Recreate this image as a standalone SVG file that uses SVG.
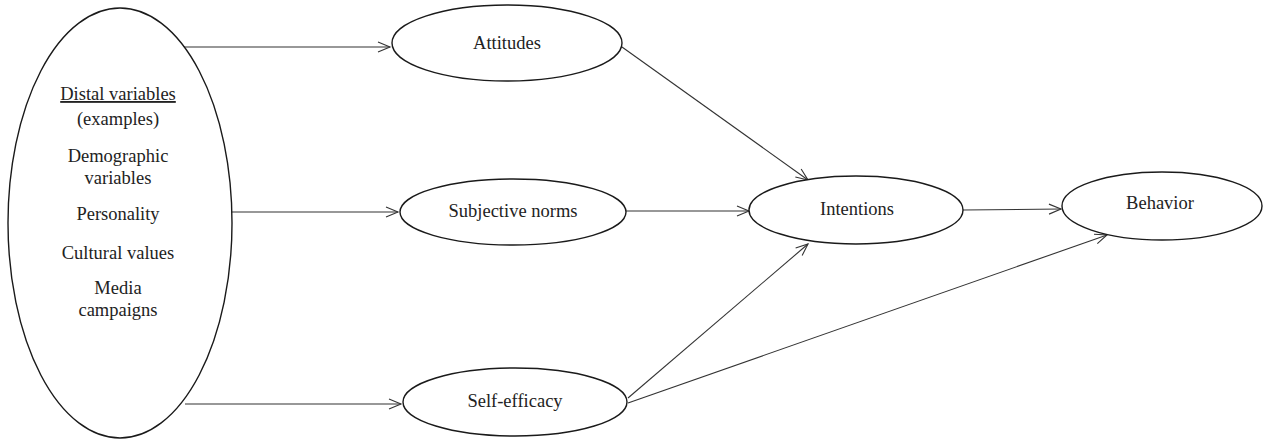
<svg xmlns="http://www.w3.org/2000/svg" width="1264" height="440" viewBox="0 0 1264 440">
<style>
.n{fill:#fff;stroke:#1a1a1a;stroke-width:1.4}
.t{font-family:"Liberation Serif","Times New Roman",serif;font-size:18.5px;fill:#222;text-anchor:middle}
.c{stroke:#333;stroke-width:1.1;fill:none;marker-end:url(#a)}
</style>
<defs>
<marker id="a" markerUnits="userSpaceOnUse" markerWidth="16" markerHeight="14" refX="13" refY="6" orient="auto" viewBox="0 0 16 12">
<path d="M1,1 L13,6 L1,11" fill="none" stroke="#333" stroke-width="1.1"/>
</marker>
</defs>
<rect width="1264" height="440" fill="#fff"/>
<g id="connectors">
<line class="c" x1="183" y1="47" x2="390" y2="47"/>
<line class="c" x1="229" y1="212" x2="398" y2="212"/>
<line class="c" x1="185" y1="404" x2="401" y2="404"/>
<line class="c" x1="622" y1="47" x2="808" y2="180"/>
<line class="c" x1="626" y1="211" x2="749" y2="211"/>
<line class="c" x1="628" y1="398" x2="808" y2="244"/>
<line class="c" x1="628" y1="403" x2="1107" y2="235"/>
<line class="c" x1="963" y1="210" x2="1061" y2="209"/>
</g>
<g id="distal">
<ellipse class="n" cx="120" cy="223" rx="112" ry="215"/>
<text class="t" x="118" y="100" text-decoration="underline">Distal variables</text>
<text class="t" x="118" y="125">(examples)</text>
<text class="t" x="118" y="162">Demographic</text>
<text class="t" x="118" y="184">variables</text>
<text class="t" x="118" y="220">Personality</text>
<text class="t" x="118" y="259">Cultural values</text>
<text class="t" x="118" y="294">Media</text>
<text class="t" x="118" y="316">campaigns</text>
</g>
<g id="attitudes">
<ellipse class="n" cx="507" cy="43" rx="115" ry="38"/>
<text class="t" x="507" y="49">Attitudes</text>
</g>
<g id="subjective">
<ellipse class="n" cx="513" cy="212" rx="113" ry="33"/>
<text class="t" x="513" y="217">Subjective norms</text>
</g>
<g id="selfefficacy">
<ellipse class="n" cx="515" cy="402" rx="112" ry="34"/>
<text class="t" x="515" y="407">Self-efficacy</text>
</g>
<g id="intentions">
<ellipse class="n" cx="856" cy="210" rx="107" ry="34"/>
<text class="t" x="857" y="215">Intentions</text>
</g>
<g id="behavior">
<ellipse class="n" cx="1162" cy="206" rx="100" ry="34"/>
<text class="t" x="1160" y="209">Behavior</text>
</g>
</svg>
